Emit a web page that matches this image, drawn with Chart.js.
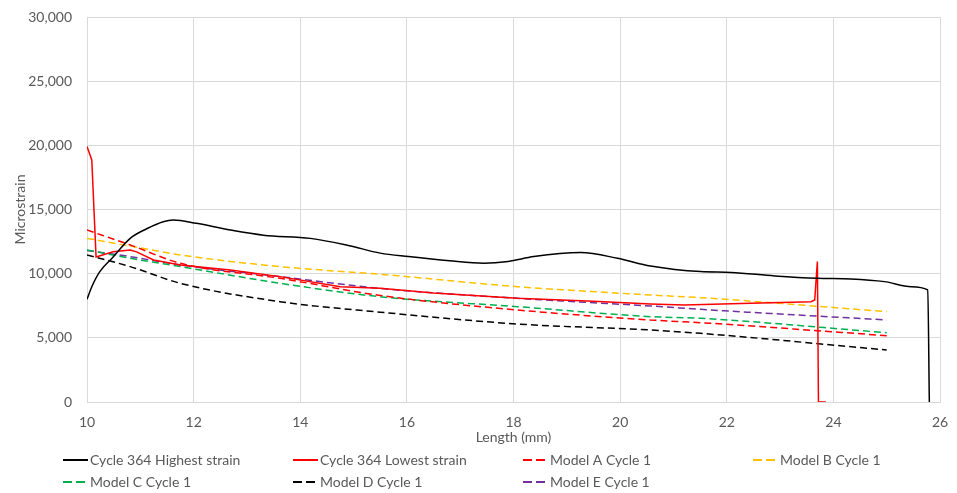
<!DOCTYPE html>
<html>
<head>
<meta charset="utf-8">
<title>Microstrain vs length</title>
<script src="https://cdn.jsdelivr.net/npm/chart.js@4/dist/chart.umd.min.js"></script>
<style>
  html, body { margin: 0; padding: 0; background: #fff; }
  #wrap { width: 957px; height: 493px; }
</style>
</head>
<body>
<div id="wrap"><canvas id="chart" width="957" height="493"></canvas></div>
<script>
'use strict';

// Measured strain along the gauge length (mm -> microstrain)
const highX = [10, 10.09, 10.24, 10.49, 10.81, 11.12, 11.43, 11.62, 12.05, 12.69, 13.31, 14.19, 14.9, 15.5, 16.03, 16.8, 17.44, 17.9, 18.38, 19.26, 19.95, 20.57, 21.51, 22.08, 22.9, 23.7, 24.33, 24.96, 25.46, 25.77, 25.8];
const highY = [8000, 8980, 10160, 11300, 12750, 13500, 14050, 14180, 13920, 13400, 13000, 12750, 12200, 11600, 11330, 11000, 10810, 10950, 11330, 11640, 11200, 10600, 10160, 10100, 9820, 9640, 9590, 9380, 8990, 8730, 0];

const lowX = [10, 10.09, 10.17, 10.49, 10.81, 10.93, 11.25, 11.75, 12.69, 13.62, 14.75, 15.5, 16.5, 18.07, 19.5, 20.57, 21.2, 22.45, 23.58, 23.65, 23.7, 23.72, 23.86];
const lowY = [19900, 18860, 11300, 11700, 11850, 11700, 11070, 10680, 10290, 9770, 8990, 8860, 8500, 8080, 7850, 7640, 7560, 7690, 7820, 7950, 10940, 0, 0];

// Model predictions, all sampled at the same lengths
const modelX = [10, 10.81, 11.75, 13.62, 15.5, 18.07, 20.57, 21.51, 25];
const modelA = [13400, 12240, 10810, 9640, 8300, 7170, 6390, 6180, 5170];
const modelB = [12750, 12150, 11460, 10550, 9950, 8990, 8340, 8130, 7040];
const modelC = [11850, 11200, 10550, 9250, 8200, 7430, 6650, 6520, 5400];
const modelD = [11460, 10550, 9250, 7820, 7000, 6080, 5610, 5350, 4050];
const modelE = [11800, 11330, 10680, 9770, 8850, 8080, 7480, 7220, 6390];

const xTicks = [10, 12, 14, 16, 18, 20, 22, 24, 26];

const FONT = 'Lato, "Open Sans", sans-serif';
const GREY = '#595959';

function pts(xs, ys) { return xs.map((x, i) => ({ x: x, y: ys[i] })); }

function series(label, xs, ys, color, dashed, smooth) {
  return {
    label: label,
    data: pts(xs, ys),
    borderColor: color,
    backgroundColor: color,
    borderWidth: 1.5,
    borderDash: dashed ? [7, 4] : [],
    pointRadius: 0,
    showLine: true,
    tension: smooth ? 0.4 : 0,
    cubicInterpolationMode: smooth ? 'monotone' : 'default'
  };
}

const datasets = [
  series('Cycle 364 Highest strain', highX, highY, '#000000', false, true),
  series('Cycle 364 Lowest strain', lowX, lowY, '#ff0000', false, false),
  series('Model A Cycle 1', modelX, modelA, '#ff0000', true, true),
  series('Model B Cycle 1', modelX, modelB, '#ffc000', true, true),
  series('Model C Cycle 1', modelX, modelC, '#00b050', true, true),
  series('Model D Cycle 1', modelX, modelD, '#000000', true, true),
  series('Model E Cycle 1', modelX, modelE, '#7030a0', true, true)
];

// Excel-style legend: 4 columns, 2 rows under the axis title
const legendCols = [63, 293, 523, 753];
const legendRows = [460, 482];

const gridLegend = {
  id: 'gridLegend',
  afterDraw(chart) {
    const ctx = chart.ctx;
    ctx.save();
    ctx.font = '14px ' + FONT;
    ctx.textBaseline = 'middle';
    chart.data.datasets.forEach((ds, i) => {
      const x = legendCols[i % 4];
      const y = legendRows[Math.floor(i / 4)];
      ctx.strokeStyle = ds.borderColor;
      ctx.lineWidth = 2;
      ctx.setLineDash(ds.borderDash.length ? [9, 4] : []);
      ctx.beginPath();
      ctx.moveTo(x, y);
      ctx.lineTo(x + 25, y);
      ctx.stroke();
      ctx.setLineDash([]);
      ctx.fillStyle = GREY;
      ctx.fillText(ds.label, x + 27, y);
    });
    ctx.restore();
  }
};

new Chart(document.getElementById('chart'), {
  type: 'scatter',
  data: { datasets: datasets },
  options: {
    responsive: false,
    animation: false,
    layout: { padding: { top: 17, right: 17, bottom: 45, left: 0 } },
    plugins: { legend: { display: false }, tooltip: { enabled: false } },
    scales: {
      x: {
        type: 'linear',
        min: 10, max: 26,
        afterBuildTicks: (s) => { s.ticks = xTicks.map(v => ({ value: v })); },
        afterFit: (s) => { s.height = 46; s.paddingLeft = 0; s.paddingRight = 0; },
        grid: { color: '#d9d9d9', drawTicks: false },
        border: { color: '#d9d9d9' },
        ticks: { padding: 12, color: GREY, font: { family: FONT, size: 14 } },
        title: { display: true, text: 'Length (mm)', color: GREY, padding: { top: 0, bottom: 2 }, font: { family: FONT, size: 14 } }
      },
      y: {
        min: 0, max: 30000,
        afterFit: (s) => { s.width = 87; s.paddingTop = 0; s.paddingBottom = 0; },
        grid: { color: '#d9d9d9', drawTicks: false },
        border: { color: '#d9d9d9' },
        ticks: {
          stepSize: 5000, padding: 15, color: GREY,
          font: { family: FONT, size: 14 },
          callback: (v) => v.toLocaleString('en-US')
        },
        title: { display: true, text: 'Microstrain', color: GREY, padding: { top: 12, bottom: 0 }, font: { family: FONT, size: 14 } }
      }
    }
  },
  plugins: [gridLegend]
});
</script>
</body>
</html>
